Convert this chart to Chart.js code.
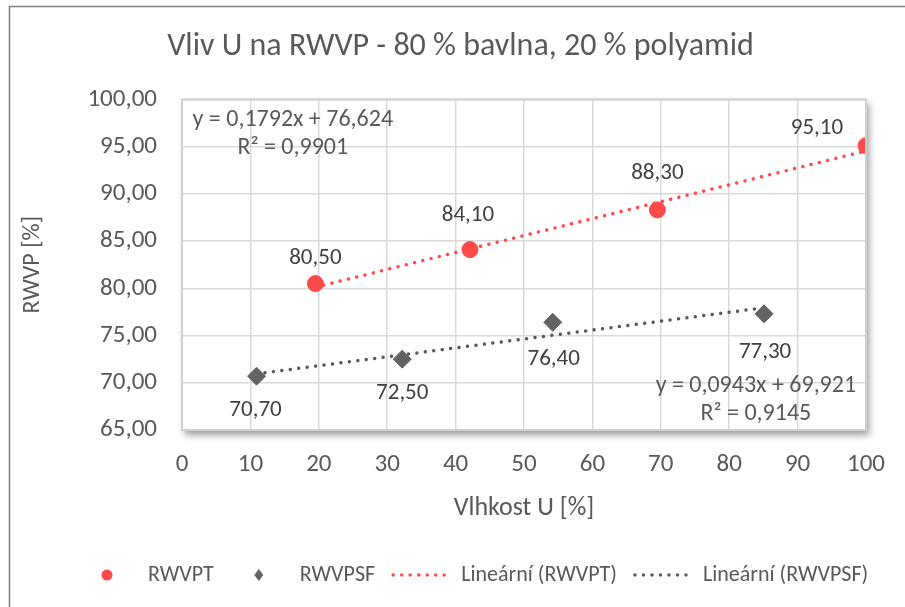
<!DOCTYPE html>
<html lang="cs">
<head>
<meta charset="UTF-8">
<title>Vliv U na RWVP</title>
<script src="https://cdn.jsdelivr.net/npm/chart.js"></script>
<style>
  html, body { margin: 0; padding: 0; background: #fff; }
  #wrap { width: 905px; height: 607px; position: relative; }
</style>
</head>
<body>
<div id="wrap"><canvas id="chart"></canvas></div>
<script>
// data
var vlhkostT  = [19.5, 42.1, 69.5, 100];
var rwvpt     = [80.5, 84.1, 88.3, 95.1];
var vlhkostSF = [10.9, 32.2, 54.2, 85.1];
var rwvpsf    = [70.7, 72.5, 76.4, 77.3];

// trend line coefficients shown in the chart
var trendT  = { k: 0.1792, q: 76.624, r2: 0.9901 };
var trendSF = { k: 0.0943, q: 69.921, r2: 0.9145 };

var FONT = 'Carlito, "Liberation Sans Narrow", "Open Sans", sans-serif';
var TXT = '#595959';
var RED = '#ff4a4a';
var GREY = '#636363';

function cz(v, d) { return v.toFixed(d).replace('.', ','); }

function toPoints(xs, ys) {
    return xs.map(function (x, i) { return { x: x, y: ys[i] }; });
}

function trendPoints(xs, t) {
    var a = Math.min.apply(null, xs), b = Math.max.apply(null, xs);
    return [{ x: a, y: t.k * a + t.q }, { x: b, y: t.k * b + t.q }];
}

// label offsets in px (Excel placed them by hand)
var offT  = [[0, -25], [-2, -34], [0, -37], [-49, -17]];
var offSF = [[-1, 34], [0, 34], [1, 37], [1, 38]];

var extras = {
    id: 'extras',
    beforeDraw: function (chart) {
        var ctx = chart.ctx, a = chart.chartArea;
        ctx.save();
        ctx.strokeStyle = '#7f7f7f';
        ctx.lineWidth = 1.5;
        ctx.beginPath();
        ctx.moveTo(9.5, 700); ctx.lineTo(9.5, 6.5); ctx.lineTo(1000, 6.5);
        ctx.stroke();
        ctx.shadowColor = 'rgba(0,0,0,0.4)';
        ctx.shadowBlur = 7;
        ctx.shadowOffsetX = 3;
        ctx.shadowOffsetY = 5;
        ctx.fillStyle = '#fff';
        ctx.fillRect(a.left, a.top, a.right - a.left, a.bottom - a.top);
        ctx.restore();
    },
    afterDatasetsDraw: function (chart) {
        var ctx = chart.ctx, a = chart.chartArea;
        var xs = chart.scales.x, ys = chart.scales.y;
        ctx.save();
        ctx.strokeStyle = '#d0d0d0';
        ctx.lineWidth = 2;
        ctx.strokeRect(a.left, a.top, a.right - a.left, a.bottom - a.top);

        ctx.font = '23px ' + FONT;
        ctx.fillStyle = '#404040';
        ctx.textAlign = 'center';
        ctx.textBaseline = 'middle';
        [[0, offT], [1, offSF]].forEach(function (p) {
            var meta = chart.getDatasetMeta(p[0]);
            var vals = p[0] === 0 ? rwvpt : rwvpsf;
            meta.data.forEach(function (el, i) {
                ctx.fillText(cz(vals[i], 2), el.x + p[1][i][0], el.y + p[1][i][1]);
            });
        });

        // trend equations
        ctx.font = '24px ' + FONT;
        ctx.fillStyle = TXT;
        ctx.textAlign = 'center';
        var x1 = xs.getPixelForValue(16.2), y1 = ys.getPixelForValue(97.8);
        ctx.fillText('y = ' + cz(trendT.k, 4) + 'x + ' + cz(trendT.q, 3), x1, y1);
        ctx.fillText('R\u00b2 = ' + cz(trendT.r2, 4), x1, y1 + 28);
        var x2 = xs.getPixelForValue(83.9), y2 = ys.getPixelForValue(69.7);
        ctx.fillText('y = ' + cz(trendSF.k, 4) + 'x + ' + cz(trendSF.q, 3), x2, y2);
        ctx.fillText('R\u00b2 = ' + cz(trendSF.r2, 4), x2, y2 + 28);
        ctx.restore();
    },
    afterDraw: function (chart) {
        var ctx = chart.ctx;
        var items = chart.data.datasets;
        ctx.save();
        ctx.font = '22px ' + FONT;
        var symW = 62, gap = 10, entryGap = 14;
        var x = 76, y = 575;
        items.forEach(function (d) {
            var cx = x + symW / 2;
            if (d.showLine) {
                ctx.strokeStyle = d.borderColor;
                ctx.lineWidth = 3.5;
                ctx.lineCap = 'round';
                ctx.setLineDash([0.01, 8.5]);
                ctx.beginPath();
                ctx.moveTo(x + 4, y); ctx.lineTo(x + symW - 2, y);
                ctx.stroke();
                ctx.setLineDash([]);
            } else {
                ctx.fillStyle = d.backgroundColor;
                ctx.beginPath();
                if (d.pointStyle === 'rectRot') {
                    ctx.moveTo(cx, y - 6); ctx.lineTo(cx + 4.5, y); ctx.lineTo(cx, y + 6); ctx.lineTo(cx - 4.5, y);
                } else {
                    ctx.arc(cx, y, 5.5, 0, Math.PI * 2);
                }
                ctx.closePath();
                ctx.fill();
            }
            ctx.fillStyle = TXT;
            ctx.textAlign = 'left';
            ctx.textBaseline = 'middle';
            ctx.fillText(d.label, x + symW + gap, y);
            x += symW + gap + ctx.measureText(d.label).width + entryGap;
        });
        ctx.restore();
    }
};

new Chart(document.getElementById('chart'), {
    type: 'scatter',
    data: {
        datasets: [
            {
                label: 'RWVPT',
                data: toPoints(vlhkostT, rwvpt),
                backgroundColor: RED, borderColor: RED,
                pointStyle: 'circle', pointRadius: 8, pointHoverRadius: 8, order: 1
            },
            {
                label: 'RWVPSF',
                data: toPoints(vlhkostSF, rwvpsf),
                backgroundColor: GREY, borderColor: GREY,
                pointStyle: 'rectRot', pointRadius: 9, pointHoverRadius: 9, order: 1
            },
            {
                label: 'Lineární (RWVPT)',
                data: trendPoints(vlhkostT, trendT),
                showLine: true, borderColor: RED, backgroundColor: RED,
                borderWidth: 3.5, borderDash: [0.01, 8.5], borderCapStyle: 'round',
                pointRadius: 0, order: 2
            },
            {
                label: 'Lineární (RWVPSF)',
                data: trendPoints(vlhkostSF, trendSF),
                showLine: true, borderColor: '#595959', backgroundColor: '#595959',
                borderWidth: 3.5, borderDash: [0.01, 8.5], borderCapStyle: 'round',
                pointRadius: 0, order: 2
            }
        ]
    },
    options: {
        responsive: true,
        maintainAspectRatio: false,
        animation: false,
        layout: { padding: { left: 54, right: 38, top: 0, bottom: 62 } },
        plugins: {
            legend: { display: false },
            tooltip: { enabled: false },
            title: {
                display: true,
                text: 'Vliv U na RWVP - 80 % bavlna, 20 % polyamid',
                color: TXT,
                font: { family: FONT, size: 32, weight: 'normal' },
                padding: { top: 28, bottom: 33 }
            }
        },
        scales: {
            x: {
                type: 'linear', min: 0, max: 100,
                ticks: { stepSize: 10, color: TXT, padding: 20, font: { family: FONT, size: 25 } },
                grid: { color: '#d9d9d9', lineWidth: 1.5, drawTicks: false },
                border: { display: false },
                title: { display: true, text: 'Vlhkost U [%]', color: TXT, font: { family: FONT, size: 26 }, padding: { top: 0, bottom: 21 } },
                afterFit: function (s) { s.height = 115; }
            },
            y: {
                type: 'linear', min: 65, max: 100,
                ticks: { stepSize: 5, color: TXT, padding: 25, font: { family: FONT, size: 25 },
                         callback: function (v) { return cz(v, 2); } },
                grid: { color: '#d9d9d9', lineWidth: 1.5, drawTicks: false },
                border: { display: false },
                title: { display: true, text: 'RWVP [%]', color: TXT, font: { family: FONT, size: 24 }, padding: { top: -35, bottom: 0 } },
                afterFit: function (s) { s.width = 128; }
            }
        }
    },
    plugins: [extras]
});
</script>
</body>
</html>
